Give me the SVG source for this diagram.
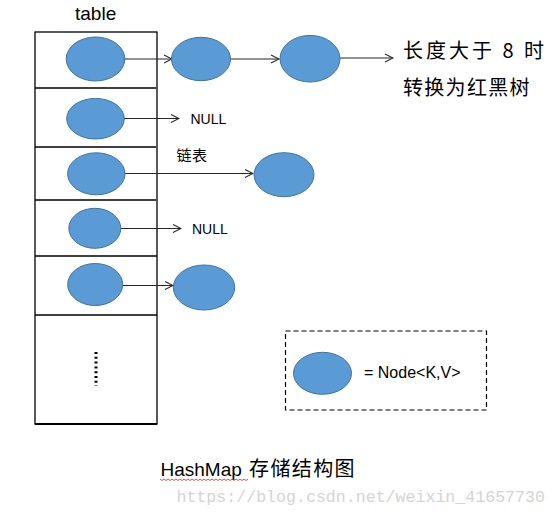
<svg xmlns="http://www.w3.org/2000/svg" width="558" height="516" viewBox="0 0 558 516">
<style>
.node{fill:#5B9BD5;stroke:#41719C;stroke-width:1}
.tbl{fill:none;stroke:#000;stroke-width:1.3}
.conn{fill:none;stroke:#262626;stroke-width:1.1;marker-end:url(#arr)}
.lat{font-family:"Liberation Sans","Noto Sans",sans-serif;fill:#000}
.cjk{font-family:"Noto Sans CJK SC","Liberation Sans",sans-serif;fill:#000}
</style>
<defs>
<marker id="arr" viewBox="0 0 10 10" refX="9" refY="5" markerWidth="10" markerHeight="10" markerUnits="userSpaceOnUse" orient="auto">
<path d="M1,1 L9,5 L1,9" fill="none" stroke="#262626" stroke-width="1.1"/>
</marker>
</defs>
<rect width="558" height="516" fill="#fff"/>
<g id="table">
<text class="lat" x="75" y="20" font-size="19">table</text>
<rect class="tbl" x="35" y="32" width="122" height="392"/>
<line class="tbl" x1="35" y1="88" x2="156" y2="88"/>
<line class="tbl" x1="35" y1="147" x2="156" y2="147"/>
<line class="tbl" x1="35" y1="200" x2="156" y2="200"/>
<line class="tbl" x1="35" y1="256" x2="157" y2="256"/>
<line class="tbl" x1="35" y1="315" x2="157" y2="315"/>
<line x1="35" y1="424" x2="157" y2="424" stroke="#000" stroke-width="2"/>
<line x1="96" y1="352" x2="96" y2="386" stroke="#000" stroke-width="3" stroke-dasharray="2,2.8"/>
</g>
<g id="connectors">
<line class="conn" x1="124" y1="59" x2="172" y2="59"/>
<line class="conn" x1="230" y1="59" x2="279" y2="59"/>
<line class="conn" x1="340" y1="58" x2="393" y2="58"/>
<line class="conn" x1="124" y1="118.5" x2="179" y2="118.5"/>
<line class="conn" x1="125" y1="173.5" x2="253" y2="173.5"/>
<line class="conn" x1="121" y1="228.5" x2="181" y2="228.5"/>
<line class="conn" x1="123" y1="285.5" x2="173" y2="285.5"/>
</g>
<g id="n1a"><ellipse class="node" cx="95.5" cy="59" rx="29.3" ry="22"/></g>
<g id="n1b"><ellipse class="node" cx="201" cy="59" rx="29.5" ry="21.7"/></g>
<g id="n1c"><ellipse class="node" cx="310" cy="58.7" rx="30" ry="23.3"/></g>
<g id="n2"><ellipse class="node" cx="95.5" cy="118.7" rx="28.8" ry="20.3"/></g>
<g id="n3a"><ellipse class="node" cx="96.3" cy="173.8" rx="28.7" ry="21"/></g>
<g id="n3b"><ellipse class="node" cx="284" cy="174.7" rx="30" ry="22"/></g>
<g id="n4"><ellipse class="node" cx="94.8" cy="228.3" rx="26" ry="20"/></g>
<g id="n5a"><ellipse class="node" cx="95.2" cy="284.5" rx="27.5" ry="21"/></g>
<g id="n5b"><ellipse class="node" cx="204" cy="287.5" rx="30.7" ry="22.5"/></g>
<g id="labels">
<text class="cjk" x="403" y="57.5" font-size="20" letter-spacing="3">长度大于 8 时</text>
<text class="cjk" x="403" y="95" font-size="20" letter-spacing="1.3">转换为红黑树</text>
<text class="lat" x="190.5" y="124.3" font-size="14">NULL</text>
<text class="lat" x="192" y="234" font-size="14">NULL</text>
<text class="cjk" x="176.5" y="161" font-size="15" letter-spacing="0.5">链表</text>
</g>
<g id="legend">
<rect x="285.5" y="331" width="201" height="79" fill="none" stroke="#000" stroke-width="1.2" stroke-dasharray="5,3"/>
<ellipse class="node" cx="322.5" cy="373.3" rx="29" ry="21"/>
<text class="lat" x="364" y="378" font-size="16">= Node&lt;K,V&gt;</text>
</g>
<g id="title">
<text class="lat" x="160.5" y="476" font-size="19">HashMap</text>
<text class="cjk" x="249" y="476" font-size="20" letter-spacing="1.4">存储结构图</text>
<path d="M160,479 l2,1.5 l2,-1.5 l2,1.5 l2,-1.5 l2,1.5 l2,-1.5 l2,1.5 l2,-1.5 l2,1.5 l2,-1.5 l2,1.5 l2,-1.5 l2,1.5 l2,-1.5 l2,1.5 l2,-1.5 l2,1.5 l2,-1.5 l2,1.5 l2,-1.5 l2,1.5 l2,-1.5 l2,1.5 l2,-1.5 l2,1.5 l2,-1.5 l2,1.5 l2,-1.5 l2,1.5 l2,-1.5 l2,1.5 l2,-1.5 l2,1.5 l2,-1.5 l2,1.5 l2,-1.5 l2,1.5 l2,-1.5 l2,1.5 l2,-1.5 l2,1.5 l2,-1.5 l2,1.5 l2,-1.5" fill="none" stroke="#e02020" stroke-width="0.8"/>
<text x="176.5" y="501.5" font-family="Liberation Mono,monospace" font-size="16.6" fill="#d4d4d4">https://blog.csdn.net/weixin_41657730</text>
</g>
</svg>
